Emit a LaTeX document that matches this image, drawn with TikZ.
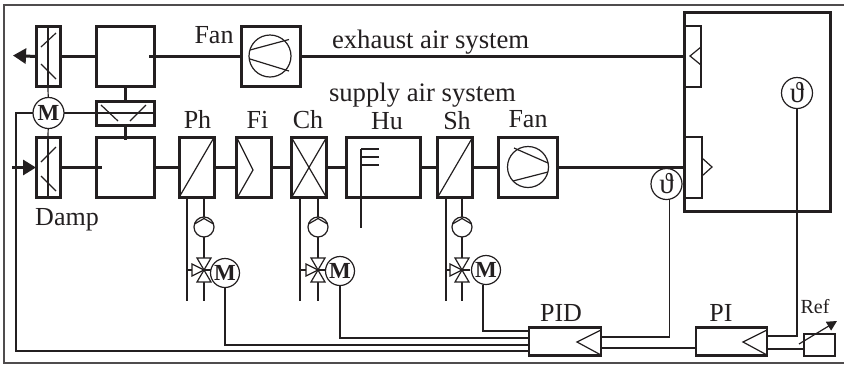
\documentclass[tikz,border=0pt]{standalone}
\usepackage{fontspec}
\setmainfont{Liberation Serif}
\usetikzlibrary{arrows.meta}
\definecolor{ink}{HTML}{231F20}
\tikzset{
  x=1pt,y=-1pt,
  every node/.style={outer sep=0pt,inner sep=0pt,text=ink},
  thick line/.style={draw=ink,line width=3pt},
  thin line/.style={draw=ink,line width=1.2pt},
  frame line/.style={draw=ink!80,line width=1.4pt},
  unit/.style={draw=ink,line width=3pt,fill=white,minimum width=#1,minimum height=60pt},
  ctrl/.style={draw=ink,line width=2.6pt,fill=white,minimum width=#1,minimum height=28pt},
  ring/.style={circle,draw=ink,line width=1.2pt,fill=white,minimum size=#1},
  lbl/.style={anchor=base,font=\fontsize{26}{26}\selectfont},
  longlbl/.style={anchor=base west,font=\fontsize{26.7}{27}\selectfont},
  motor/.style={ring=29pt,font=\fontsize{23}{23}\selectfont\bfseries},
  sensor/.style={ring=31pt,font=\fontsize{29}{29}\selectfont},
}
\newcommand{\hydro}[3]{% name, supply x, valve x
  \coordinate (#1t) at (#3,198);
  \coordinate (#1s) at (#2,198);
  \coordinate (#1se) at (#2,301);
  \coordinate (#1re) at (#3,301);
  \coordinate (#1v) at (#3,270);
  \coordinate (#1vl) at (#2,270);
  \draw[thin line] (#1s) -- (#1se);
  \draw[thin line] (#1t) -- (#1re);
  \node[ring=20pt] (#1p) at (#3,227) {};
  \draw[thin line] (#3-9.5,224) -- (#3,218.5) -- (#3+9.5,224);
  \draw[thin line,fill=white] (#3-7,258) -- (#3+7,258) -- (#3-7,282) -- (#3+7,282) -- cycle;
  \draw[thin line,fill=white] (#3-12,264) -- (#3,270) -- (#3-12,276) -- cycle;
  \draw[thin line] (#1vl) -- (#3-12,270);
  \draw[thin line] (#1v) -- (#3+8,270);
}
\begin{document}
\begin{tikzpicture}
\useasboundingbox (0,0) rectangle (844,365);
\fill[white] (0,0) rectangle (844,365);
% outer frame
\coordinate (fa) at (844,5);
\coordinate (fb) at (4,5);
\coordinate (fc) at (4,363);
\coordinate (fd) at (844,363);
\draw[frame line] (fa) -- (fb) -- (fc) -- (fd);

% room
\node[draw=ink,line width=3pt,minimum width=146pt,minimum height=199pt] (room) at (757,111.5) {};
\node[draw=ink,line width=2.6pt,minimum width=17pt,minimum height=61pt] (exT) at (692.5,56.5) {};
\node[draw=ink,line width=2.6pt,minimum width=18pt,minimum height=61pt] (suT) at (693,167.5) {};
\draw[thin line] (701,47) -- (690,56) -- (701,65);
\draw[thin line] (702,158) -- (712,167) -- (702,176);

% exhaust row
\node[unit=24pt] (dampA) at (48,56.5) {};
\node[unit=58pt] (boxA) at (125,56.5) {};
\node[unit=59pt] (fanA) at (270.5,56.5) {};
% supply row
\node[unit=24pt] (dampB) at (48,167.5) {};
\node[unit=58pt] (boxB) at (125,167.5) {};
\node[unit=35pt] (ph) at (196.5,167.5) {};
\node[unit=35pt] (fi) at (253.5,167.5) {};
\node[unit=35pt] (ch) at (309,167.5) {};
\node[unit=74pt] (hu) at (383,167.5) {};
\node[unit=35pt] (sh) at (455,167.5) {};
\node[unit=59pt] (fanB) at (527.5,167.5) {};
\node[draw=ink,line width=3pt,minimum width=58pt,minimum height=24pt] (rot) at (125,113) {};

% main ducts
\draw[thick line] (dampA) -- (boxA);
\draw[thick line] (boxA.center) ++(24,0) -- (fanA.west);
\draw[thick line] (fanA) -- (exT.west);
\draw[thick line] (dampB) -- (boxB.west) -- +(6,0);
\draw[thick line] (boxB) -- (ph);
\draw[thick line] (ph) -- (fi);
\draw[thick line] (fi) -- (ch);
\draw[thick line] (ch) -- (hu);
\draw[thick line] (hu) -- (sh);
\draw[thick line] (sh) -- (fanB);
\draw[thick line] (fanB) -- (suT.west);
\draw[thick line] (boxA) -- (rot);
\draw[thick line] (rot.south) -- +(0,15);

% dampers internals
\draw[thin line] (dampA.north) -- (dampA.south);
\draw[thin line] (dampB.north) -- (dampB.south);
\draw[thin line] (41,47) -- (56,33) (41,64) -- (56,79);
\draw[thin line] (41,162) -- (56,147) (41,176) -- (56,191);
\draw[thin line] (101,105) -- (118,121) (130,121) -- (146,105);

% fresh/exhaust arrows
\coordinate (arA) at (13,55.5);
\coordinate (arB) at (36,167.5);
\coordinate (arB0) at (12,167.5);
\draw[thick line,-{Triangle[length=13pt,width=15pt]}] (dampA.west) -- (arA);
\draw[thick line,-{Triangle[length=13pt,width=15pt]}] (arB0) -- (arB);

% fans
\draw[thin line] (270,56) circle (21);
\draw[thin line] (250,50) -- (289,39.5) (250,59) -- (289,71);
\draw[thin line] (528,167) circle (20.5);
\draw[thin line] (514,148) -- (548,163) (513,181) -- (548,172);

% coils
\draw[thin line] (ph.south west) -- (ph.north east);
\draw[thin line] (237,138) -- (253,170) -- (237,198);
\draw[thin line] (ch.south west) -- (ch.north east) (ch.north west) -- (ch.south east);
\draw[thin line] (sh.south west) -- (sh.north east);
% humidifier
\coordinate (huT) at (361,149);
\coordinate (huB) at (361,228);
\draw[thin line] (huT) -- (huB);
\draw[thin line] (361,149) -- (379,149) (361,157) -- (379,157) (361,165) -- (379,165);

% hydraulic groups
\hydro{a}{187}{204}
\hydro{b}{300}{318}
\hydro{c}{446}{462}

% controllers
\node[ctrl=72pt] (pid) at (565,341.5) {};
\node[ctrl=71pt] (pi) at (731.5,341.5) {};
\node[draw=ink,line width=2.6pt,minimum width=31pt,minimum height=22pt] (ref) at (819.5,345) {};
\draw[thin line] (601,330) -- (577,342) -- (601,355);
\draw[thin line] (767,330) -- (743,342) -- (767,355);

% motors and sensors
\node[motor,minimum size=31pt] (mD) at (48.5,113) {M};
\node[motor] (mA) at (225,273) {M};
\node[motor] (mB) at (340,271) {M};
\node[motor] (mC) at (486,270) {M};
\node[sensor] (sSup) at (666.5,184) {\symbol{"03D1}};
\node[sensor] (sRoom) at (797,93) {\symbol{"03D1}};

% damper linkage
\draw[thin line] (dampA.south) -- (mD);
\draw[thin line] (mD) -- (dampB.north);
\draw[thin line] (mD.east) -- (rot.east);

% signal wires
\coordinate (pidA) at (529,331);
\coordinate (pidB) at (529,338);
\coordinate (pidC) at (529,345);
\coordinate (pidD) at (529,351);
\coordinate (pidR) at (601,337);
\coordinate (pidO) at (601,348);
\coordinate (piL) at (696,348);
\coordinate (piR) at (767,336);
\coordinate (piO) at (767,349);
\coordinate (refL) at (804,349);
\coordinate (mDl) at (16,113);
\coordinate (mDb) at (16,351);
\draw[thin line] (mC.south) ++(-3,0) |- (pidA);
\draw[thin line] (mB.south) |- (pidB);
\draw[thin line] (mA.south) |- (pidC);
\draw[thin line] (mD.west) -- (mDl) -- (mDb) -- (pidD);
\draw[thin line] (sSup.south) ++(3,0) |- (pidR);
\draw[thin line] (pidO) -- (piL);
\draw[thin line] (sRoom.south) |- (piR);
\draw[thin line] (piO) -- (refL);
% reference arrow
\coordinate (raS) at (799,344);
\coordinate (raE) at (837,321);
\draw[thin line,-{Triangle[length=10pt,width=10pt]}] (raS) -- (raE);

% labels
\node[lbl] (tFanA) at (214,43) {Fan};
\node[longlbl] (tEx) at (332,48) {exhaust air system};
\node[longlbl] (tSu) at (329,101) {supply air system};
\node[lbl] (tPh) at (197.5,128) {Ph};
\node[lbl] (tFi) at (257.5,128) {Fi};
\node[lbl] (tCh) at (308,128) {Ch};
\node[lbl] (tHu) at (387,129) {Hu};
\node[lbl] (tSh) at (457,129) {Sh};
\node[lbl] (tFanB) at (528,127) {Fan};
\node[lbl] (tDamp) at (67,225) {Damp};
\node[lbl] (tPID) at (561,321) {PID};
\node[lbl] (tPI) at (721,321) {PI};
\node[anchor=base,font=\fontsize{20}{20}\selectfont] (tRef) at (815,313) {Ref};
\end{tikzpicture}
\end{document}
